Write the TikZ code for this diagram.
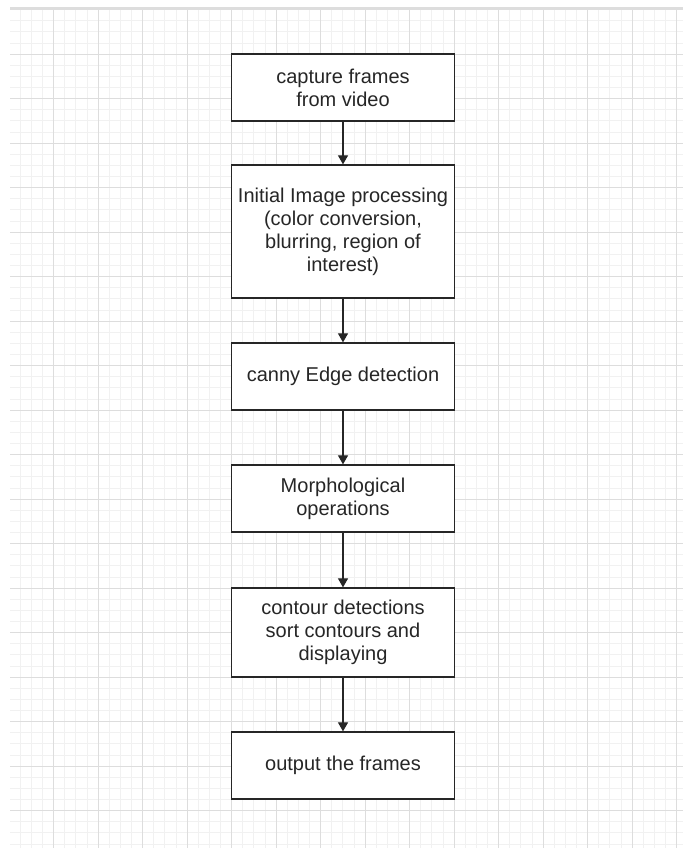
\documentclass[tikz,border=0pt]{standalone}
\usepackage{fontspec}
\setmainfont{Liberation Sans}
\usetikzlibrary{arrows.meta}
\definecolor{majorgrid}{HTML}{DDDDDD}
\definecolor{minorgrid}{HTML}{F1F1F1}
\definecolor{ink}{HTML}{262626}

\begin{document}
\begin{tikzpicture}[x=1pt, y=-1pt,
    every node/.style={draw=ink, line width=1.3pt, fill=white, rectangle, align=center,
      minimum width=222.5pt, inner sep=4pt, text=ink, font=\fontsize{20}{23}\selectfont},
    flow/.style={draw=ink, line width=1.2pt, -{Triangle[length=9pt, width=10pt]}} ]
      \useasboundingbox (0,0) rectangle (683,848);
      \fill[white] (0,0) rectangle (683,848);
      % grid of the canvas
      \begin{scope}
        \clip (10,8) rectangle (683,848);
        \foreach \i in {0,...,61} {
          \draw[minorgrid, line width=0.6pt] (9+\i*11.125,8)--(9+\i*11.125,848);
        }
        \foreach \j in {0,...,76} {
          \draw[minorgrid, line width=0.6pt] (10,9.5+\j*11.125)--(683,9.5+\j*11.125);
        }
        \foreach \i in {0,...,15} {
          \draw[majorgrid, line width=0.8pt] (9+\i*44.5,8)--(9+\i*44.5,848);
        }
        \foreach \j in {0,...,19} {
          \draw[majorgrid, line width=0.8pt] (10,9.5+\j*44.5)--(683,9.5+\j*44.5);
        }
      \end{scope}
      \draw[majorgrid, line width=1.2pt] (10,8)--(683,8);
      \node[minimum height=67pt] (capture) at (343,87.5) {capture frames\\from video};
      \node[minimum height=133pt] (initial) at (343,231.5) {Initial Image processing\\(color conversion,\\blurring, region of\\interest)};
      \node[minimum height=67pt] (canny) at (343,376.5) {canny Edge detection};
      \node[minimum height=67pt] (morph) at (343,498.5) {Morphological\\operations};
      \node[minimum height=89pt] (contour) at (343,632.5) {contour detections\\sort contours and\\displaying};
      \node[minimum height=67pt] (output) at (343,765.5) {output the frames};
\draw[flow] (capture)--(initial);
\draw[flow] (initial)--(canny);
\draw[flow] (canny)--(morph);
\draw[flow] (morph)--(contour);
\draw[flow] (contour)--(output);
\end{tikzpicture}
\end{document}
